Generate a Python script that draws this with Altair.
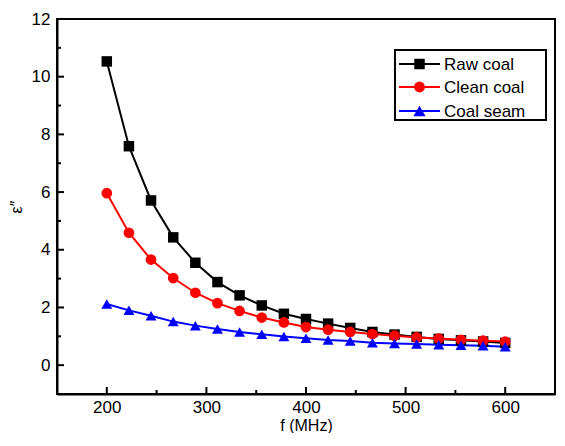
import altair as alt
import pandas as pd

# ---- data ----
freq = [200, 222.2, 244.4, 266.7, 288.9, 311.1, 333.3, 355.6, 377.8, 400,
        422.2, 444.4, 466.7, 488.9, 511.1, 533.3, 555.6, 577.8, 600]
raw_coal = [10.53, 7.59, 5.71, 4.43, 3.55, 2.88, 2.42, 2.07, 1.78, 1.60,
            1.44, 1.29, 1.15, 1.06, 0.98, 0.91, 0.86, 0.82, 0.77]
clean_coal = [5.96, 4.59, 3.66, 3.02, 2.51, 2.15, 1.88, 1.65, 1.48, 1.32,
              1.23, 1.15, 1.08, 1.02, 0.96, 0.92, 0.88, 0.85, 0.82]
coal_seam = [2.12, 1.90, 1.71, 1.51, 1.37, 1.25, 1.15, 1.07, 0.99, 0.93,
             0.87, 0.84, 0.78, 0.75, 0.73, 0.71, 0.69, 0.67, 0.64]

series_names = ["Raw coal", "Clean coal", "Coal seam"]
series_values = [raw_coal, clean_coal, coal_seam]
colors = ["#000000", "#ff0000", "#0000ff"]
shapes = ["square", "circle", "triangle-up"]
marker_sizes = [110, 120, 150]

x_major = [200, 300, 400, 500, 600]
x_minor = [250, 350, 450, 550]
y_major = [0, 2, 4, 6, 8, 10, 12]
y_minor = [1, 3, 5, 7, 9, 11]

W, H = 498, 375
FONT = "Liberation Sans"

rows = []
for name, vals in zip(series_names, series_values):
    for f, v in zip(freq, vals):
        rows.append({"f": f, "eps": v, "series": name})
df = pd.DataFrame(rows)

xscale = alt.Scale(domain=[150, 650], nice=False, zero=False)
yscale = alt.Scale(domain=[-1, 12], nice=False, zero=False)
xaxis = alt.Axis(values=x_major, title="f (MHz)", ticks=False, grid=False,
                 labelPadding=5, titleFontSize=16, titleY=36, titleBaseline="alphabetic")
yaxis = alt.Axis(values=y_major, title="ε″", ticks=False, grid=False,
                 labelPadding=7, titlePadding=7, titleFontSize=16)
color = alt.Color("series:N", scale=alt.Scale(domain=series_names, range=colors), legend=None)
shape = alt.Shape("series:N", scale=alt.Scale(domain=series_names, range=shapes), legend=None)
size = alt.Size("series:N", scale=alt.Scale(domain=series_names, range=marker_sizes), legend=None)

lines = alt.Chart(df).mark_line(strokeWidth=2).encode(
    x=alt.X("f:Q", scale=xscale, axis=xaxis),
    y=alt.Y("eps:Q", scale=yscale, axis=yaxis),
    color=color,
    detail="series:N",
)
points = alt.Chart(df).mark_point(filled=True, opacity=1).encode(
    x=alt.X("f:Q", scale=xscale, axis=xaxis),
    y=alt.Y("eps:Q", scale=yscale, axis=yaxis),
    color=color,
    shape=shape,
    size=size,
)

layers = [lines, points]

# inward ticks
def xticks(vals, length):
    return alt.Chart(pd.DataFrame({"f": vals})).mark_rule(color="black", strokeWidth=2).encode(
        x=alt.X("f:Q", scale=xscale, axis=xaxis),
        y=alt.value(H), y2=alt.value(H - length))

def yticks(vals, length):
    return alt.Chart(pd.DataFrame({"eps": vals})).mark_rule(color="black", strokeWidth=2).encode(
        y=alt.Y("eps:Q", scale=yscale, axis=yaxis),
        x=alt.value(0), x2=alt.value(length))

layers += [xticks(x_major, 7), xticks(x_minor, 4), yticks(y_major, 7), yticks(y_minor, 4)]

# legend box
one = pd.DataFrame({"k": [0]})
layers.append(alt.Chart(one).mark_rect(fill="white", stroke="black", strokeWidth=2).encode(
    x=alt.value(338), x2=alt.value(489), y=alt.value(31), y2=alt.value(101)))
leg_y = [45, 68, 92]
for name, col, shp, sz, ly in zip(series_names, colors, shapes, marker_sizes, leg_y):
    d = pd.DataFrame({"name": [name]})
    layers.append(alt.Chart(d).mark_rule(color=col, strokeWidth=2).encode(
        x=alt.value(342), x2=alt.value(383), y=alt.value(ly)))
    layers.append(alt.Chart(d).mark_point(filled=True, size=sz, opacity=1, color=col, shape=shp).encode(
        x=alt.value(362.5), y=alt.value(ly)))
    layers.append(alt.Chart(d).mark_text(align="left", baseline="middle", fontSize=17,
                                         font=FONT, color="black").encode(
        x=alt.value(387), y=alt.value(ly + 1), text="name:N"))

chart = alt.layer(*layers).properties(
    width=W, height=H,
    autosize=alt.AutoSizeParams(type="none"),
    padding={"left": 49, "top": 11, "right": 1, "bottom": 39},
).configure_view(stroke="black", strokeWidth=2).configure_axis(
    domainColor="black", domainWidth=2, labelFontSize=17, labelColor="black",
    labelFont=FONT, titleFont=FONT, titleFontSize=17, titleFontWeight="normal",
    titleColor="black",
)

chart.save("out.html", embed_options={"renderer": "svg", "actions": False})
